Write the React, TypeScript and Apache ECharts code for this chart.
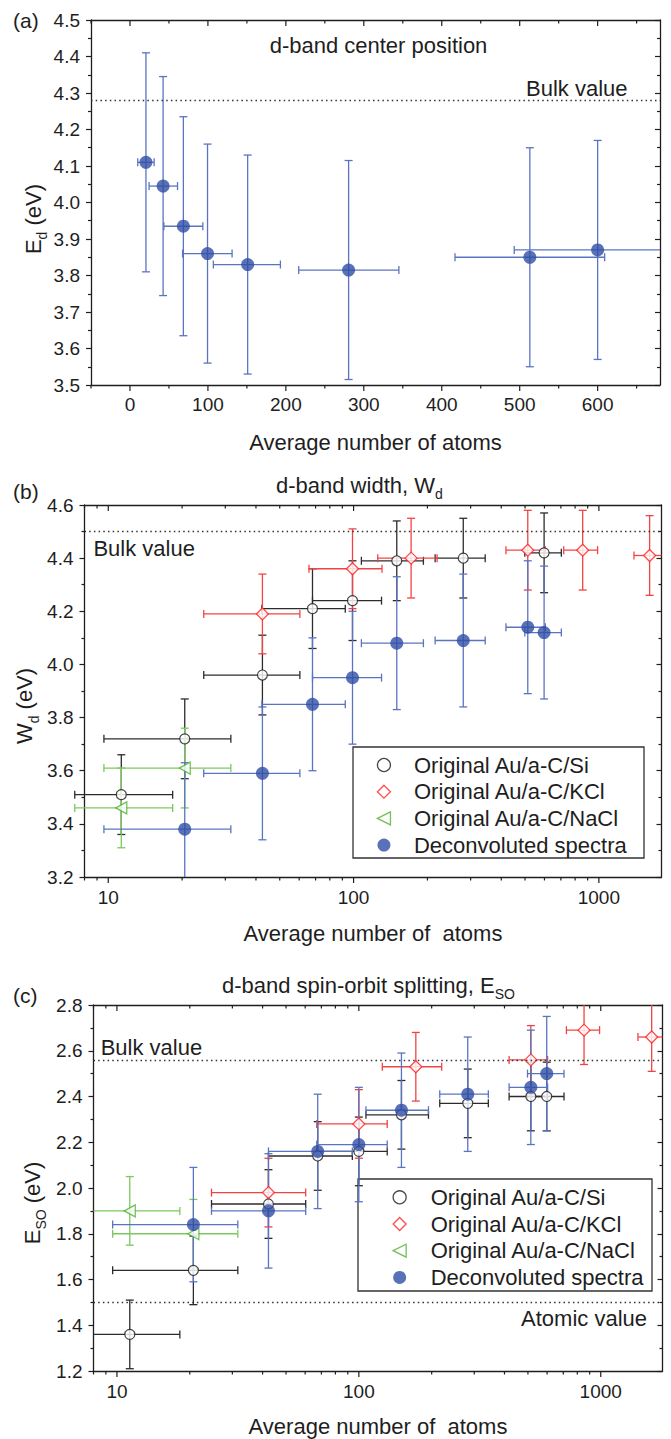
import React, { useEffect, useRef } from "react";
import * as echarts from "echarts";

const FONT = "'Liberation Sans', Arial, Helvetica, sans-serif";
const INK = "#1e1e1e";

// ---------------- Panel (a): d-band center position ----------------
const aAtoms = [20.5, 42.5, 68.5, 99.5, 151, 280.5, 513, 600];
const aEd = [4.11, 4.045, 3.935, 3.86, 3.83, 3.815, 3.85, 3.87];
const aAtomsLo = [10, 24.5, 43.5, 67.5, 107, 216.5, 417, 493];
const aAtomsHi = [31, 61, 93.5, 131, 193, 345, 609, 708];
const aEdErr = [0.3, 0.3, 0.3, 0.3, 0.3, 0.3, 0.3, 0.3];
const aBulk = 4.283;
const aXMajorTicks = [0, 100, 200, 300, 400, 500, 600];
const aXMinorTicks = [-50, 50, 150, 250, 350, 450, 550, 650];

// ---------------- Panel (b): d-band width ----------------
const bSiAtoms = [11.3, 20.5, 42.5, 68, 99, 150, 280, 598];
const bSiWd = [3.51, 3.72, 3.96, 4.21, 4.24, 4.39, 4.4, 4.42];
const bSiLo = [7.3, 9.6, 24.5, 42.3, 68, 107.6, 215, 499];
const bSiHi = [18.3, 31.6, 60.4, 92.5, 130, 192.6, 344, 703];
const bSiErr = [0.15, 0.15, 0.15, 0.15, 0.15, 0.15, 0.15, 0.15];

const bKclAtoms = [42.5, 99, 171.6, 513, 859, 1610];
const bKclWd = [4.19, 4.36, 4.4, 4.43, 4.43, 4.41];
const bKclLo = [24.5, 65.8, 125.5, 418, 719, 1390];
const bKclHi = [60.4, 130.6, 219, 605, 988, 1880];
const bKclErr = [0.15, 0.15, 0.15, 0.15, 0.15, 0.15];

const bNaclAtoms = [11.3, 20.5];
const bNaclWd = [3.46, 3.61];
const bNaclLo = [7.3, 9.6];
const bNaclHi = [18.3, 31.6];
const bNaclErr = [0.15, 0.15];

const bDecAtoms = [20.5, 42.5, 68, 99, 150, 280, 513, 598];
const bDecWd = [3.38, 3.59, 3.85, 3.95, 4.08, 4.09, 4.14, 4.12];
const bDecLo = [9.6, 24.5, 42.3, 68, 107.6, 215, 418, 499];
const bDecHi = [31.6, 60.4, 92.5, 130, 192.6, 344, 605, 703];
const bDecErr = [0.25, 0.25, 0.25, 0.25, 0.25, 0.25, 0.25, 0.25];
const bBulk = 4.5;

// ---------------- Panel (c): d-band spin-orbit splitting ----------------
const cSiAtoms = [11.3, 20.7, 42.3, 67.6, 100, 150, 282, 514, 598];
const cSiEso = [1.36, 1.64, 1.93, 2.14, 2.16, 2.32, 2.37, 2.4, 2.4];
const cSiLo = [7, 9.6, 24.6, 42.3, 67, 107, 216, 418, 498];
const cSiHi = [18.2, 31.6, 60.3, 94, 131, 194, 343, 603, 705];
const cSiErr = [0.15, 0.15, 0.15, 0.15, 0.15, 0.15, 0.15, 0.15, 0.15];

const cKclAtoms = [42.3, 100, 172, 514, 853, 1624];
const cKclEso = [1.98, 2.28, 2.53, 2.56, 2.69, 2.66];
const cKclLo = [24.6, 67, 125, 418, 721, 1425];
const cKclHi = [60.3, 131, 220, 603, 989, 1850];
const cKclErr = [0.15, 0.15, 0.15, 0.15, 0.15, 0.15];

const cNaclAtoms = [11.3, 20.7];
const cNaclEso = [1.9, 1.8];
const cNaclLo = [7, 9.6];
const cNaclHi = [18.2, 31.6];
const cNaclErr = [0.15, 0.15];

const cDecAtoms = [20.7, 42.3, 67.6, 100, 150, 282, 514, 598];
const cDecEso = [1.84, 1.9, 2.16, 2.19, 2.34, 2.41, 2.44, 2.5];
const cDecLo = [9.6, 24.6, 42.3, 67, 107, 216, 418, 498];
const cDecHi = [31.6, 60.3, 94, 131, 194, 343, 603, 705];
const cDecErr = [0.25, 0.25, 0.25, 0.25, 0.25, 0.25, 0.25, 0.25];
const cBulk = 2.56;
const cAtomic = 1.5;

const logMajorTicks = [10, 100, 1000];
const logMinorTicks = [8, 9, 20, 30, 40, 50, 60, 70, 80, 90, 200, 300, 400, 500, 600, 700, 800, 900];

const NAME_SI = "Original Au/a-C/Si";
const NAME_KCL = "Original Au/a-C/KCl";
const NAME_NACL = "Original Au/a-C/NaCl";
const NAME_DEC = "Deconvoluted spectra";
const legendNames = [NAME_SI, NAME_KCL, NAME_NACL, NAME_DEC];

const C_SI = "#1a1a1a";
const C_SI_BAR = "#2c2c2c";
const C_KCL = "#ff2020";
const C_KCL_BAR = "#f04444";
const C_NACL = "#4fb230";
const C_NACL_BAR = "#7cc85e";
const C_DEC = "#2f4ea5";
const C_DEC_BAR = "#5a74c2";

const CAP = 8;

// grid g uses xAxis 2g (bottom), 2g+1 (top); yAxis 2g (left), 2g+1 (right)
function errorSeries(id: string, g: number, xs: number[], ys: number[], lo: number[], hi: number[], err: number[], color: string, leftSlack: number) {
  return {
    type: "custom",
    id,
    name: id,
    xAxisIndex: 2 * g,
    yAxisIndex: 2 * g,
    z: 2,
    silent: true,
    clip: false,
    encode: { x: 0, y: 1 },
    data: xs.map((x, i) => [x, ys[i], lo[i], hi[i], err[i]]),
    renderItem: (params: any, api: any) => {
      const cs = params.coordSys;
      const x = api.value(0);
      const y = api.value(1);
      const xl = api.value(2);
      const xh = api.value(3);
      const e = api.value(4);
      const c = api.coord([x, y]);
      const pl = api.coord([xl, y]);
      const ph = api.coord([xh, y]);
      const pt = api.coord([x, y + e]);
      const pb = api.coord([x, y - e]);
      const minX = cs.x - leftSlack;
      const maxX = cs.x + cs.width;
      const minY = cs.y;
      const maxY = cs.y + cs.height;
      const h = CAP / 2;
      const st = { stroke: color, lineWidth: 1.3 };
      const ch: any[] = [];
      ch.push({ type: "line", shape: { x1: Math.max(pl[0], minX), y1: c[1], x2: Math.min(ph[0], maxX), y2: c[1] }, style: st });
      if (pl[0] >= minX) ch.push({ type: "line", shape: { x1: pl[0], y1: c[1] - h, x2: pl[0], y2: c[1] + h }, style: st });
      if (ph[0] <= maxX) ch.push({ type: "line", shape: { x1: ph[0], y1: c[1] - h, x2: ph[0], y2: c[1] + h }, style: st });
      ch.push({ type: "line", shape: { x1: c[0], y1: Math.max(pt[1], minY), x2: c[0], y2: Math.min(pb[1], maxY) }, style: st });
      if (pt[1] >= minY) ch.push({ type: "line", shape: { x1: c[0] - h, y1: pt[1], x2: c[0] + h, y2: pt[1] }, style: st });
      if (pb[1] <= maxY) ch.push({ type: "line", shape: { x1: c[0] - h, y1: pb[1], x2: c[0] + h, y2: pb[1] }, style: st });
      return { type: "group", children: ch };
    },
  };
}

function tickSeries(id: string, g: number, values: number[], yBase: number, len: number) {
  return {
    type: "custom",
    id,
    name: id,
    xAxisIndex: 2 * g,
    yAxisIndex: 2 * g,
    z: 6,
    silent: true,
    clip: false,
    encode: { x: 0, y: 1 },
    data: values.map((v) => [v, yBase]),
    renderItem: (params: any, api: any) => {
      const cs = params.coordSys;
      const px = api.coord([api.value(0), api.value(1)])[0];
      const bottom = cs.y + cs.height;
      const top = cs.y;
      const st = { stroke: INK, lineWidth: 1.2 };
      return {
        type: "group",
        children: [
          { type: "line", shape: { x1: px, y1: bottom, x2: px, y2: bottom + len }, style: st },
          { type: "line", shape: { x1: px, y1: top, x2: px, y2: top + len }, style: st },
        ],
      };
    },
  };
}

function zip(xs: number[], ys: number[]) {
  return xs.map((x, i) => [x, ys[i]]);
}

const openCircle = { symbol: "circle", symbolSize: 10, itemStyle: { color: "#ffffff", borderColor: C_SI, borderWidth: 1.2 } };
const openDiamond = { symbol: "diamond", symbolSize: 12, itemStyle: { color: "#ffffff", borderColor: C_KCL, borderWidth: 1.3 } };
const openTriangle = { symbol: "path://M0,5 L10,0 L10,10 Z", symbolSize: [11, 12], itemStyle: { color: "#ffffff", borderColor: C_NACL, borderWidth: 1.3 } };
const filledCircle = { symbol: "circle", symbolSize: 13, itemStyle: { color: C_DEC } };

function scatter(name: string, g: number, xs: number[], ys: number[], look: any, z: number, extra?: any) {
  return {
    type: "scatter",
    name,
    xAxisIndex: 2 * g,
    yAxisIndex: 2 * g,
    z,
    data: zip(xs, ys),
    emphasis: { disabled: true },
    ...look,
    ...(extra || {}),
  };
}

function dotted(values: number[]) {
  return {
    silent: true,
    symbol: ["none", "none"],
    label: { show: false },
    lineStyle: { color: "#333", width: 1.4, type: [1.5, 3.2] },
    data: values.map((v) => ({ yAxis: v })),
  };
}

const axLine = { show: true, onZero: false, lineStyle: { color: INK, width: 1.3 } };
const tickStyle = { color: INK, width: 1.2 };
const labelBase = { color: INK, fontSize: 19, fontFamily: FONT };
const nameStyle = { color: INK, fontSize: 22, fontFamily: FONT };

function yPair(grid: number, min: number, max: number, interval: number) {
  return [
    {
      type: "value", gridIndex: grid, min, max, interval, position: "left",
      axisLine: axLine,
      axisTick: { show: true, inside: false, length: 5, lineStyle: tickStyle },
      minorTick: { show: true, splitNumber: 2, length: 3, lineStyle: tickStyle },
      splitLine: { show: false },
      axisLabel: { ...labelBase, margin: 11, formatter: (v: number) => v.toFixed(1) },
    },
    {
      type: "value", gridIndex: grid, min, max, interval, position: "right",
      axisLine: axLine,
      axisTick: { show: true, inside: true, length: 5, lineStyle: tickStyle },
      minorTick: { show: true, splitNumber: 2, length: 3, lineStyle: tickStyle },
      splitLine: { show: false },
      axisLabel: { show: false },
    },
  ];
}

function logPair(grid: number, nameGap: number) {
  return [
    {
      type: "log", logBase: 10, gridIndex: grid, min: 8, max: 1800, position: "bottom",
      axisLine: axLine,
      axisTick: { show: false },
      splitLine: { show: false },
      axisLabel: {
        ...labelBase, margin: 11, showMinLabel: false, showMaxLabel: false,
        formatter: (v: number) => {
          const r = Math.round(v);
          return logMajorTicks.indexOf(r) >= 0 && Math.abs(v - r) < 0.01 * r ? String(r) : "";
        },
      },
      name: "Average number of  atoms", nameLocation: "middle", nameGap, nameTextStyle: nameStyle,
    },
    {
      type: "log", logBase: 10, gridIndex: grid, min: 8, max: 1800, position: "top",
      axisLine: axLine, axisTick: { show: false }, splitLine: { show: false }, axisLabel: { show: false },
    },
  ];
}

const rich = {
  m: { fontSize: 22, lineHeight: 22, verticalAlign: "top", fontFamily: FONT, fill: INK },
  s: { fontSize: 14, lineHeight: 14, verticalAlign: "top", padding: [13, 0, 0, 0], fontFamily: FONT, fill: INK },
};

function txt(x: number, y: number, text: string, align: string, size = 22) {
  return { type: "text", x, y, z: 10, silent: true, style: { text, align, verticalAlign: "middle", fontSize: size, fontFamily: FONT, fill: INK } };
}
function richTxt(x: number, y: number, text: string, align: string, rotation = 0) {
  return { type: "text", x, y, rotation, z: 10, silent: true, style: { text, rich, align, verticalAlign: "middle", fontFamily: FONT, fill: INK } };
}

export default function App() {
  const ref = useRef<HTMLDivElement>(null);
  useEffect(() => {
    if (!ref.current) return;
    const chart = echarts.init(ref.current, undefined, { renderer: "svg" });
    const [yA0, yA1] = yPair(0, 3.5, 4.5, 0.1);
    const [yB0, yB1] = yPair(1, 3.2, 4.6, 0.2);
    const [yC0, yC1] = yPair(2, 1.2, 2.8, 0.2);
    const [xB0, xB1] = logPair(1, 45);
    const [xC0, xC1] = logPair(2, 44);
    const legendCommon = {
      data: legendNames, orient: "vertical", padding: 0, itemGap: 4.7, itemWidth: 13, itemHeight: 13,
      selectedMode: false, itemStyle: { borderWidth: 1.3 },
    };
    const option: any = {
      animation: false,
      backgroundColor: "#ffffff",
      textStyle: { fontFamily: FONT },
      grid: [
        { left: 91, top: 20, width: 569, height: 365 },
        { left: 84.5, top: 505, width: 577, height: 372 },
        { left: 93.5, top: 1005, width: 569, height: 366 },
      ],
      xAxis: [
        {
          type: "value", gridIndex: 0, min: -50, max: 680, interval: 50, position: "bottom",
          axisLine: axLine, axisTick: { show: false }, splitLine: { show: false },
          axisLabel: {
            ...labelBase, margin: 10,
            formatter: (v: number) => (aXMajorTicks.indexOf(Math.round(v)) >= 0 ? String(Math.round(v)) : ""),
          },
          name: "Average number of atoms", nameLocation: "middle", nameGap: 46, nameTextStyle: nameStyle,
        },
        { type: "value", gridIndex: 0, min: -50, max: 680, position: "top", axisLine: axLine, axisTick: { show: false }, splitLine: { show: false }, axisLabel: { show: false } },
        xB0, xB1, xC0, xC1,
      ],
      yAxis: [yA0, yA1, yB0, yB1, yC0, yC1],
      legend: [
        { ...legendCommon, left: 376.8, top: 754, textStyle: { fontSize: 22, lineHeight: 22, fontFamily: FONT, color: INK, padding: [0, 0, 0, 18.5] } },
        { ...legendCommon, left: 392.5, top: 1186.3, textStyle: { fontSize: 22, lineHeight: 22, fontFamily: FONT, color: INK, padding: [0, 0, 0, 19.5] } },
      ],
      series: [
        tickSeries("aMaj", 0, aXMajorTicks, 3.5, 6),
        tickSeries("aMin", 0, aXMinorTicks, 3.5, 3.5),
        tickSeries("bMaj", 1, logMajorTicks, 3.2, 6),
        tickSeries("bMin", 1, logMinorTicks, 3.2, 3.5),
        tickSeries("cMaj", 2, logMajorTicks, 1.2, 6),
        tickSeries("cMin", 2, logMinorTicks, 1.2, 3.5),
        // panel (a)
        errorSeries("aErr", 0, aAtoms, aEd, aAtomsLo, aAtomsHi, aEdErr, C_DEC_BAR, 0),
        scatter("E_d deconvoluted", 0, aAtoms, aEd, filledCircle, 4, { markLine: dotted([aBulk]) }),
        // panel (b)
        errorSeries("bErrSi", 1, bSiAtoms, bSiWd, bSiLo, bSiHi, bSiErr, C_SI_BAR, 12),
        errorSeries("bErrKcl", 1, bKclAtoms, bKclWd, bKclLo, bKclHi, bKclErr, C_KCL_BAR, 12),
        errorSeries("bErrNacl", 1, bNaclAtoms, bNaclWd, bNaclLo, bNaclHi, bNaclErr, C_NACL_BAR, 12),
        errorSeries("bErrDec", 1, bDecAtoms, bDecWd, bDecLo, bDecHi, bDecErr, C_DEC_BAR, 12),
        scatter(NAME_SI, 1, bSiAtoms, bSiWd, openCircle, 3, { markLine: dotted([bBulk]) }),
        scatter(NAME_KCL, 1, bKclAtoms, bKclWd, openDiamond, 3),
        scatter(NAME_NACL, 1, bNaclAtoms, bNaclWd, openTriangle, 3),
        scatter(NAME_DEC, 1, bDecAtoms, bDecWd, filledCircle, 4),
        // panel (c)
        errorSeries("cErrSi", 2, cSiAtoms, cSiEso, cSiLo, cSiHi, cSiErr, C_SI_BAR, 0),
        errorSeries("cErrKcl", 2, cKclAtoms, cKclEso, cKclLo, cKclHi, cKclErr, C_KCL_BAR, 0),
        errorSeries("cErrNacl", 2, cNaclAtoms, cNaclEso, cNaclLo, cNaclHi, cNaclErr, C_NACL_BAR, 0),
        errorSeries("cErrDec", 2, cDecAtoms, cDecEso, cDecLo, cDecHi, cDecErr, C_DEC_BAR, 0),
        scatter(NAME_SI, 2, cSiAtoms, cSiEso, openCircle, 3, { markLine: dotted([cBulk, cAtomic]) }),
        scatter(NAME_KCL, 2, cKclAtoms, cKclEso, openDiamond, 3),
        scatter(NAME_NACL, 2, cNaclAtoms, cNaclEso, openTriangle, 3),
        scatter(NAME_DEC, 2, cDecAtoms, cDecEso, filledCircle, 4),
      ],
      graphic: [
        txt(13, 20, "(a)", "left", 21),
        txt(378.5, 45.5, "d-band center position", "center"),
        txt(526, 88, "Bulk value", "left"),
        richTxt(33, 219, "{m|E}{s|d}{m| (eV)}", "center", Math.PI / 2),

        txt(13, 491, "(b)", "left", 21),
        richTxt(276, 485, "{m|d-band width, W}{s|d}", "left"),
        txt(93.4, 548, "Bulk value", "left"),
        richTxt(24.5, 706, "{m|W}{s|d}{m| (eV)}", "center", Math.PI / 2),

        txt(13, 995, "(c)", "left", 21),
        richTxt(222, 985, "{m|d-band spin-orbit splitting, E}{s|SO}", "left"),
        txt(100.7, 1047, "Bulk value", "left"),
        txt(647, 1318, "Atomic value", "right"),
        richTxt(32, 1203, "{m|E}{s|SO}{m| (eV)}", "center", Math.PI / 2),

        { type: "rect", z: 1, silent: true, shape: { x: 353, y: 747, width: 291, height: 111 }, style: { fill: "none", stroke: "#333", lineWidth: 1.3 } },
        { type: "rect", z: 1, silent: true, shape: { x: 358, y: 1179, width: 294, height: 112 }, style: { fill: "none", stroke: "#333", lineWidth: 1.3 } },
      ],
    };
    chart.setOption(option);
    return () => chart.dispose();
  }, []);
  return <div ref={ref} style={{ position: "absolute", left: 0, top: 0, width: 671, height: 1439, background: "#fff" }} />;
}
